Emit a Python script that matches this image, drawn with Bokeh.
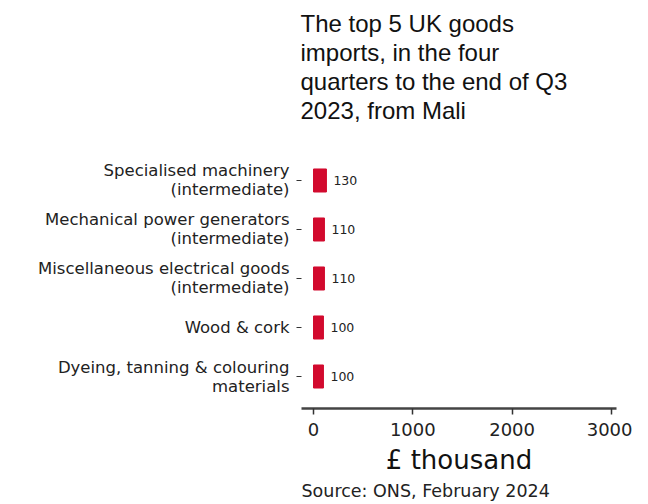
from bokeh.plotting import figure
from bokeh.models import ColumnDataSource, Title, FixedTicker, LabelSet
from bokeh.core.properties import value
from bokeh.embed import file_html
from bokeh.resources import INLINE

categories = [
    "Specialised machinery\n(intermediate)",
    "Mechanical power generators\n(intermediate)",
    "Miscellaneous electrical goods\n(intermediate)",
    "Wood & cork",
    "Dyeing, tanning & colouring\nmaterials",
]
values = [130, 110, 110, 100, 100]
x_ticks = [0, 1000, 2000, 3000]
title_lines = ["The top 5 UK goods", "imports, in the four",
               "quarters to the end of Q3", "2023, from Mali"]

FONT = "DejaVu Sans"
TFONT = "Liberation Sans"
n = len(categories)
ypos = [n - 1 - i for i in range(n)]
src = ColumnDataSource(dict(y=ypos, v=values, lab=[str(v) for v in values]))

p = figure(width=632, height=504, output_backend="svg", toolbar_location=None,
           x_range=(-121, 3051), y_range=(-0.653, 4.51),
           min_border_left=301, min_border_right=16, min_border_top=155, min_border_bottom=96)
p.outline_line_color = None
p.grid.grid_line_color = None
p.background_fill_color = "white"

p.hbar(y="y", left=0, right="v", height=0.47, source=src, color="#D20A2E")
labels = LabelSet(x="v", y="y", text="lab", source=src, x_offset=7, y_offset=0,
                  text_baseline="middle", text_font=value(FONT), text_font_size="12.5px",
                  text_color="#222222")
p.add_layout(labels)

# y axis
p.yaxis.ticker = FixedTicker(ticks=ypos)
p.yaxis.major_label_overrides = {y: c for y, c in zip(ypos, categories)}
p.yaxis.axis_line_color = None
p.yaxis.major_tick_line_color = "#333333"
p.yaxis.major_tick_in = 0
p.yaxis.major_tick_out = 5
p.yaxis.minor_tick_line_color = None
p.yaxis.major_label_text_font = FONT
p.yaxis.major_label_text_font_size = "16.5px"
p.yaxis.major_label_text_line_height = 1.0
p.yaxis.major_label_text_color = "#222222"
p.yaxis.major_label_standoff = 7

# x axis
p.xaxis.ticker = FixedTicker(ticks=x_ticks)
p.xaxis.axis_line_color = "#444444"
p.xaxis.axis_line_width = 2.5
p.xaxis.major_tick_line_color = "#333333"
p.xaxis.major_tick_line_width = 1.5
p.xaxis.major_tick_in = 0
p.xaxis.major_tick_out = 6
p.xaxis.minor_tick_line_color = None
p.xaxis.major_label_text_font = FONT
p.xaxis.major_label_text_font_size = "18px"
p.xaxis.major_label_text_color = "#222222"
p.xaxis.major_label_standoff = 8
p.xaxis.axis_label = "£ thousand"
p.xaxis.axis_label_text_font = FONT
p.xaxis.axis_label_text_font_size = "26px"
p.xaxis.axis_label_text_font_style = "normal"
p.xaxis.axis_label_text_color = "#111111"
p.xaxis.axis_label_standoff = 6

def style_title(t, standoff, size="24px"):
    t.text_font = TFONT
    t.text_font_size = size
    t.text_line_height = 1.0
    t.text_font_style = "normal"
    t.text_color = "#111111"
    t.align = "left"
    t.offset = -1
    t.standoff = standoff

# spacer between the title block and the plot frame
spacer = Title(text=" ")
style_title(spacer, 29, "1px")
p.add_layout(spacer, "above")

# p.title is drawn outermost; added titles stack outward from the frame
p.title.text = title_lines[0]
style_title(p.title, 0)
for line in reversed(title_lines[1:]):
    t = Title(text=line)
    style_title(t, 0)
    p.add_layout(t, "above")

p.add_layout(Title(text="Source: ONS, February 2024", text_font=FONT,
                   text_font_size="17.5px", text_font_style="normal",
                   text_color="#222222", align="left", standoff=2), "below")

open("out.html", "w").write(file_html(p, INLINE))
